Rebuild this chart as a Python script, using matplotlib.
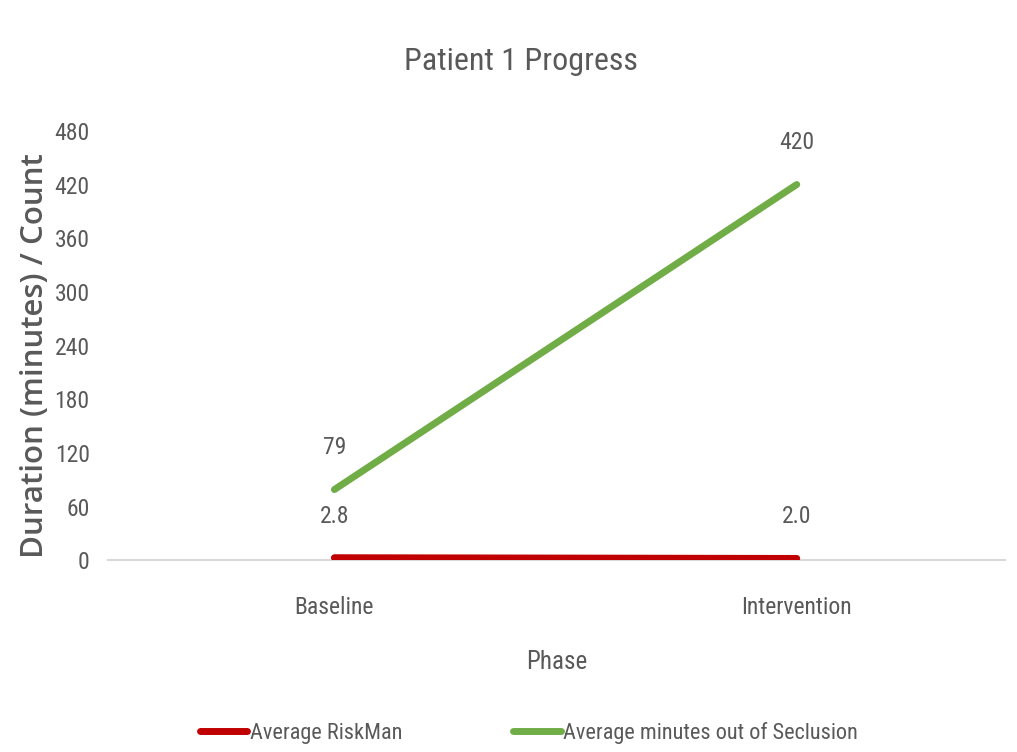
import matplotlib
matplotlib.use("Agg")
import matplotlib.pyplot as plt
from matplotlib import font_manager

phases = ["Baseline", "Intervention"]
riskman = [2.8, 2.0]
seclusion = [79, 420]
riskman_labels = ["2.8", "2.0"]
seclusion_labels = ["79", "420"]
yticks = [0, 60, 120, 180, 240, 300, 360, 420, 480]

names = {f.name for f in font_manager.fontManager.ttflist}
def pick(cands, default):
    for c in cands:
        if c in names:
            return c
    return default

narrow = pick(["Roboto Condensed", "Archivo Narrow", "PT Sans Narrow", "Asap Condensed",
               "Liberation Sans Narrow"], "Liberation Sans")
ylab_font = pick(["Open Sans", "Carlito"], "DejaVu Sans")
TXT = "#595959"
W = "normal"

fig = plt.figure(figsize=(10.17, 7.52), dpi=100)
ax = fig.add_axes([0.106, 0.255, 0.882, 0.571])

x = list(range(len(phases)))
ax.plot(x, riskman, color="#C00000", lw=5, solid_capstyle="round", label="Average RiskMan", zorder=3)
ax.plot(x, seclusion, color="#70AD47", lw=5, solid_capstyle="round", label="Average minutes out of Seclusion", zorder=3)

for xi, v, t in zip(x, riskman, riskman_labels):
    ax.annotate(t, (xi, v), xytext=(0, 30), textcoords="offset points", ha="center", va="center",
                fontsize=17, color=TXT, family=narrow, fontweight=W)
for xi, v, t in zip(x, seclusion, seclusion_labels):
    ax.annotate(t, (xi, v), xytext=(0, 30), textcoords="offset points", ha="center", va="center",
                fontsize=17, color=TXT, family=narrow, fontweight=W)

ax.set_xlim(-0.49, 1.45)
ax.set_ylim(0, 480)
ax.set_yticks(yticks)
ax.set_xticks(x)
ax.set_xticklabels(phases)
for s in ["top", "right", "left"]:
    ax.spines[s].set_visible(False)
ax.spines["bottom"].set_color("#D9D9D9")
ax.spines["bottom"].set_linewidth(1.5)
ax.tick_params(axis="both", length=0, labelsize=17, labelcolor=TXT)
ax.tick_params(axis="x", pad=26)
ax.tick_params(axis="y", pad=13)
for lab in ax.get_xticklabels() + ax.get_yticklabels():
    lab.set_family(narrow)
    lab.set_fontweight(W)

ax.set_ylabel("Duration (minutes) / Count", fontsize=22.5, color=TXT, family=ylab_font,
              fontweight="semibold")
ax.yaxis.set_label_coords(-0.064, 0.476)
ax.set_xlabel("Phase", fontsize=18, color=TXT, family=narrow, fontweight=W, labelpad=22)
fig.text(0.512, 0.918, "Patient 1 Progress", ha="center", va="center", fontsize=23, color=TXT,
         family=narrow, fontweight=W)

fig.legend(loc="center", bbox_to_anchor=(0.52, 0.025), ncol=2, frameon=False,
           prop={"family": narrow, "size": 16, "weight": W}, labelcolor=TXT, handlelength=2.15,
           handletextpad=0.1, columnspacing=5.0)

fig.savefig("out.png", dpi=100)
